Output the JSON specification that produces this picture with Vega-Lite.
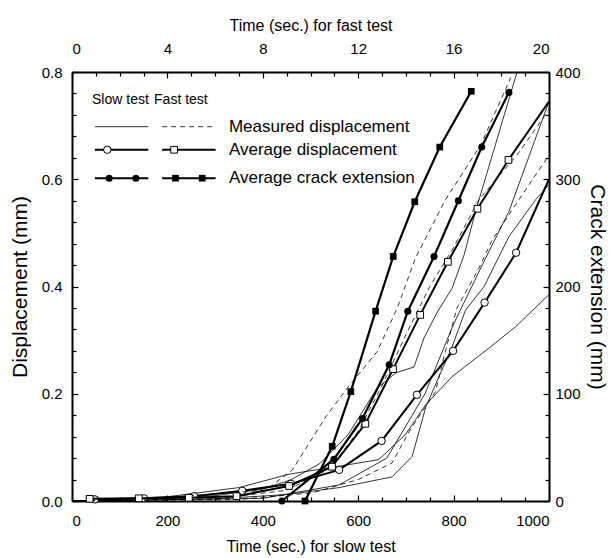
{
  "$schema": "https://vega.github.io/schema/vega-lite/v6.json",
  "width": 477,
  "height": 429,
  "autosize": {"type": "none"},
  "padding": {"left": 72, "top": 72, "right": 62, "bottom": 57},
  "background": "white",
  "config": {
    "view": {"stroke": null},
    "font": "Liberation Sans",
    "axis": {
      "domainColor": "#000", "domainWidth": 2, "tickColor": "#000", "tickWidth": 1.2,
      "labelColor": "#000", "labelFont": "Liberation Sans", "labelFontSize": 15,
      "titleColor": "#000", "titleFontWeight": "normal", "grid": false
    }
  },
  "datasets": {
    "slowMeas": [
      {"series": "S1", "t": 0, "d": 0}, {"series": "S1", "t": 150, "d": 0.003}, {"series": "S1", "t": 300, "d": 0.01}, {"series": "S1", "t": 400, "d": 0.022}, {"series": "S1", "t": 460, "d": 0.04}, {"series": "S1", "t": 520, "d": 0.07}, {"series": "S1", "t": 580, "d": 0.125}, {"series": "S1", "t": 640, "d": 0.211}, {"series": "S1", "t": 679, "d": 0.239}, {"series": "S1", "t": 717, "d": 0.25}, {"series": "S1", "t": 738, "d": 0.304}, {"series": "S1", "t": 765, "d": 0.351}, {"series": "S1", "t": 797, "d": 0.397}, {"series": "S1", "t": 822, "d": 0.459}, {"series": "S1", "t": 846, "d": 0.54}, {"series": "S1", "t": 933, "d": 0.8},
      {"series": "S2", "t": 0, "d": 0}, {"series": "S2", "t": 300, "d": 0.004}, {"series": "S2", "t": 450, "d": 0.012}, {"series": "S2", "t": 560, "d": 0.025}, {"series": "S2", "t": 671, "d": 0.045}, {"series": "S2", "t": 713, "d": 0.083}, {"series": "S2", "t": 742, "d": 0.176}, {"series": "S2", "t": 797, "d": 0.288}, {"series": "S2", "t": 825, "d": 0.356}, {"series": "S2", "t": 864, "d": 0.4}, {"series": "S2", "t": 916, "d": 0.493}, {"series": "S2", "t": 972, "d": 0.562}, {"series": "S2", "t": 1000, "d": 0.59},
      {"series": "S3", "t": 0, "d": 0}, {"series": "S3", "t": 200, "d": 0.008}, {"series": "S3", "t": 350, "d": 0.025}, {"series": "S3", "t": 455, "d": 0.05}, {"series": "S3", "t": 560, "d": 0.065}, {"series": "S3", "t": 643, "d": 0.077}, {"series": "S3", "t": 700, "d": 0.125}, {"series": "S3", "t": 741, "d": 0.179}, {"series": "S3", "t": 797, "d": 0.232}, {"series": "S3", "t": 874, "d": 0.285}, {"series": "S3", "t": 930, "d": 0.325}, {"series": "S3", "t": 1000, "d": 0.385},
      {"series": "S4", "t": 0, "d": 0}, {"series": "S4", "t": 400, "d": 0.005}, {"series": "S4", "t": 560, "d": 0.03}, {"series": "S4", "t": 660, "d": 0.08}, {"series": "S4", "t": 740, "d": 0.2}, {"series": "S4", "t": 800, "d": 0.33}, {"series": "S4", "t": 860, "d": 0.44}, {"series": "S4", "t": 916, "d": 0.54}, {"series": "S4", "t": 1000, "d": 0.745}
    ],
    "slowAvg": [
      {"t": 48, "d": 0.003}, {"t": 151, "d": 0.005}, {"t": 256, "d": 0.009}, {"t": 357, "d": 0.019}, {"t": 459, "d": 0.032}, {"t": 560, "d": 0.058}, {"t": 649, "d": 0.112}, {"t": 723, "d": 0.198}, {"t": 799, "d": 0.28}, {"t": 865, "d": 0.37}, {"t": 931, "d": 0.463}, {"t": 1000, "d": 0.6}
    ],
    "fastMeas": [
      {"series": "D1", "tf": 0, "d": 0}, {"series": "D1", "tf": 2, "d": 0.002}, {"series": "D1", "tf": 4.06, "d": 0.007}, {"series": "D1", "tf": 8.12, "d": 0.02}, {"series": "D1", "tf": 9.24, "d": 0.058}, {"series": "D1", "tf": 10.64, "d": 0.157}, {"series": "D1", "tf": 11.48, "d": 0.207}, {"series": "D1", "tf": 12.8, "d": 0.279}, {"series": "D1", "tf": 13.64, "d": 0.36}, {"series": "D1", "tf": 14.4, "d": 0.453}, {"series": "D1", "tf": 15.66, "d": 0.562}, {"series": "D1", "tf": 17.14, "d": 0.664}, {"series": "D1", "tf": 18.4, "d": 0.79},
      {"series": "D2", "tf": 0, "d": 0}, {"series": "D2", "tf": 6, "d": 0.004}, {"series": "D2", "tf": 9, "d": 0.02}, {"series": "D2", "tf": 10.8, "d": 0.06}, {"series": "D2", "tf": 12, "d": 0.13}, {"series": "D2", "tf": 13, "d": 0.215}, {"series": "D2", "tf": 14, "d": 0.31}, {"series": "D2", "tf": 15, "d": 0.4}, {"series": "D2", "tf": 15.94, "d": 0.468}, {"series": "D2", "tf": 17.06, "d": 0.562}, {"series": "D2", "tf": 18.74, "d": 0.65}, {"series": "D2", "tf": 20, "d": 0.73},
      {"series": "D3", "tf": 0, "d": 0}, {"series": "D3", "tf": 7, "d": 0.003}, {"series": "D3", "tf": 10.06, "d": 0.015}, {"series": "D3", "tf": 12, "d": 0.04}, {"series": "D3", "tf": 13.42, "d": 0.071}, {"series": "D3", "tf": 14.14, "d": 0.13}, {"series": "D3", "tf": 15.24, "d": 0.204}, {"series": "D3", "tf": 15.6, "d": 0.27}, {"series": "D3", "tf": 16.14, "d": 0.36}, {"series": "D3", "tf": 17.06, "d": 0.434}, {"series": "D3", "tf": 17.62, "d": 0.487}, {"series": "D3", "tf": 18.74, "d": 0.562}, {"series": "D3", "tf": 20, "d": 0.645}
    ],
    "fastAvg": [
      {"tf": 0.74, "d": 0.004}, {"tf": 2.8, "d": 0.005}, {"tf": 4.9, "d": 0.006}, {"tf": 6.9, "d": 0.009}, {"tf": 9.1, "d": 0.028}, {"tf": 10.9, "d": 0.064}, {"tf": 12.3, "d": 0.144}, {"tf": 13.46, "d": 0.246}, {"tf": 14.6, "d": 0.347}, {"tf": 15.76, "d": 0.446}, {"tf": 17.0, "d": 0.545}, {"tf": 18.3, "d": 0.636}, {"tf": 20, "d": 0.745}
    ],
    "slowCrack": [
      {"t": 440, "c": 0}, {"t": 549, "c": 39}, {"t": 609, "c": 77}, {"t": 665, "c": 127}, {"t": 704, "c": 177}, {"t": 759, "c": 228}, {"t": 810, "c": 280}, {"t": 859, "c": 330}, {"t": 916, "c": 381}
    ],
    "fastCrack": [
      {"tf": 9.77, "c": 0}, {"tf": 10.91, "c": 51}, {"tf": 11.69, "c": 102}, {"tf": 12.73, "c": 177}, {"tf": 13.47, "c": 228}, {"tf": 14.37, "c": 279}, {"tf": 15.42, "c": 330}, {"tf": 16.74, "c": 382}
    ],
    "legLines": [
      {"kind": "thin", "t": 48, "t2": 160, "d": 0.698},
      {"kind": "dash", "t": 189, "t2": 301, "d": 0.698},
      {"kind": "thick", "t": 48, "t2": 160, "d": 0.655},
      {"kind": "thick", "t": 189, "t2": 301, "d": 0.655},
      {"kind": "thick", "t": 48, "t2": 160, "d": 0.602},
      {"kind": "thick", "t": 189, "t2": 301, "d": 0.602}
    ],
    "legPoints": [
      {"kind": "openCircle", "t": 74, "d": 0.655},
      {"kind": "openSquare", "t": 214, "d": 0.655},
      {"kind": "filledCircle", "t": 78, "d": 0.602},
      {"kind": "filledCircle", "t": 134, "d": 0.602},
      {"kind": "filledSquare", "t": 217, "d": 0.602},
      {"kind": "filledSquare", "t": 273, "d": 0.602}
    ],
    "legHead": [
      {"label": "Slow test", "t": 42, "d": 0.748},
      {"label": "Fast test", "t": 172, "d": 0.748}
    ],
    "legText": [
      {"label": "Measured displacement", "t": 329, "d": 0.698},
      {"label": "Average displacement", "t": 329, "d": 0.655},
      {"label": "Average crack extension", "t": 329, "d": 0.602}
    ]
  },
  "resolve": {"scale": {"x": "independent", "y": "independent"}, "axis": {"x": "independent", "y": "independent"}},
  "layer": [
    {
      "encoding": {
        "x": {"field": "t", "type": "quantitative", "scale": {"domain": [0, 1000], "nice": false, "zero": false},
          "axis": {"orient": "bottom", "values": [0,50,100,150,200,250,300,350,400,450,500,550,600,650,700,750,800,850,900,950,1000],
            "labelExpr": "datum.value % 200 === 0 ? datum.label : ''", "format": "d",
            "tickSize": {"condition": {"test": "datum.value % 200 === 0", "value": -6}, "value": -4},
            "labelPadding": 18, "title": "Time (sec.) for slow test", "titleFont": "Liberation Sans", "titleFontSize": 16, "titlePadding": 10}},
        "y": {"field": "d", "type": "quantitative", "scale": {"domain": [0, 0.8], "nice": false},
          "axis": {"orient": "left", "values": [0,0.04,0.08,0.12,0.16,0.2,0.24,0.28,0.32,0.36,0.4,0.44,0.48,0.52,0.56,0.6,0.64,0.68,0.72,0.76,0.8],
            "labelExpr": "round(datum.value*100) % 20 === 0 ? datum.label : ''", "format": ".1f",
            "tickSize": {"condition": {"test": "round(datum.value*100) % 20 === 0", "value": -6}, "value": -4},
            "labelPadding": 16, "title": "Displacement (mm)", "titleFont": "Liberation Sans", "titleFontSize": 21, "titlePadding": 11}}
      },
      "layer": [
        {"data": {"name": "slowMeas"}, "mark": {"type": "line", "color": "black", "strokeWidth": 0.8}, "encoding": {"detail": {"field": "series"}}},
        {"data": {"name": "slowAvg"}, "mark": {"type": "line", "color": "black", "strokeWidth": 2}},
        {"data": {"name": "slowAvg"}, "transform": [{"filter": "datum.t < 1000"}], "mark": {"type": "point", "shape": "circle", "filled": true, "fill": "white", "stroke": "black", "strokeWidth": 1, "size": 55, "opacity": 1}},
        {"data": {"name": "legLines"}, "transform": [{"filter": "datum.kind === 'thin'"}], "mark": {"type": "rule", "color": "black", "strokeWidth": 0.8}, "encoding": {"x2": {"field": "t2"}}},
        {"data": {"name": "legLines"}, "transform": [{"filter": "datum.kind === 'dash'"}], "mark": {"type": "rule", "color": "black", "strokeWidth": 0.8, "strokeDash": [5, 4]}, "encoding": {"x2": {"field": "t2"}}},
        {"data": {"name": "legLines"}, "transform": [{"filter": "datum.kind === 'thick'"}], "mark": {"type": "rule", "color": "black", "strokeWidth": 2}, "encoding": {"x2": {"field": "t2"}}},
        {"data": {"name": "legPoints"}, "transform": [{"filter": "datum.kind === 'openCircle'"}], "mark": {"type": "point", "shape": "circle", "filled": true, "fill": "white", "stroke": "black", "strokeWidth": 1, "size": 55, "opacity": 1}},
        {"data": {"name": "legPoints"}, "transform": [{"filter": "datum.kind === 'openSquare'"}], "mark": {"type": "point", "shape": "square", "filled": true, "fill": "white", "stroke": "black", "strokeWidth": 1, "size": 45, "opacity": 1}},
        {"data": {"name": "legPoints"}, "transform": [{"filter": "datum.kind === 'filledCircle'"}], "mark": {"type": "point", "shape": "circle", "filled": true, "fill": "black", "size": 50, "opacity": 1}},
        {"data": {"name": "legPoints"}, "transform": [{"filter": "datum.kind === 'filledSquare'"}], "mark": {"type": "point", "shape": "square", "filled": true, "fill": "black", "size": 45, "opacity": 1}},
        {"data": {"name": "legHead"}, "mark": {"type": "text", "align": "left", "baseline": "middle", "font": "Liberation Sans", "fontSize": 14, "color": "black"}, "encoding": {"text": {"field": "label"}}},
        {"data": {"name": "legText"}, "mark": {"type": "text", "align": "left", "baseline": "middle", "font": "Liberation Sans", "fontSize": 17, "color": "black"}, "encoding": {"text": {"field": "label"}}}
      ]
    },
    {
      "encoding": {
        "x": {"field": "tf", "type": "quantitative", "scale": {"domain": [0, 20], "nice": false, "zero": false},
          "axis": {"orient": "top", "values": [0,1,2,3,4,5,6,7,8,9,10,11,12,13,14,15,16,17,18,19,20],
            "labelExpr": "datum.value % 4 === 0 ? datum.label : ''", "format": "d",
            "tickSize": {"condition": {"test": "datum.value % 4 === 0", "value": -6}, "value": -4},
            "labelPadding": 22, "title": "Time (sec.) for fast test", "titleFont": "Liberation Sans", "titleFontSize": 16, "titlePadding": 8}},
        "y": {"field": "d", "type": "quantitative", "scale": {"domain": [0, 0.8], "nice": false}, "axis": null}
      },
      "layer": [
        {"data": {"name": "fastMeas"}, "mark": {"type": "line", "color": "black", "strokeWidth": 0.8, "strokeDash": [5, 4]}, "encoding": {"detail": {"field": "series"}}},
        {"data": {"name": "fastAvg"}, "mark": {"type": "line", "color": "black", "strokeWidth": 2}},
        {"data": {"name": "fastAvg"}, "transform": [{"filter": "datum.tf < 20"}], "mark": {"type": "point", "shape": "square", "filled": true, "fill": "white", "stroke": "black", "strokeWidth": 1, "size": 45, "opacity": 1}}
      ]
    },
    {
      "encoding": {
        "x": {"field": "t", "type": "quantitative", "scale": {"domain": [0, 1000], "nice": false, "zero": false}, "axis": null},
        "y": {"field": "c", "type": "quantitative", "scale": {"domain": [0, 400], "nice": false},
          "axis": {"orient": "right", "values": [0,20,40,60,80,100,120,140,160,180,200,220,240,260,280,300,320,340,360,380,400],
            "labelExpr": "datum.value % 100 === 0 ? datum.label : ''", "format": "d",
            "tickSize": {"condition": {"test": "datum.value % 100 === 0", "value": -6}, "value": -4},
            "labelPadding": 12, "title": "Crack extension (mm)", "titleFont": "Liberation Sans", "titleFontSize": 21, "titlePadding": 6}}
      },
      "layer": [
        {"data": {"name": "slowCrack"}, "mark": {"type": "line", "color": "black", "strokeWidth": 2.2}},
        {"data": {"name": "slowCrack"}, "mark": {"type": "point", "shape": "circle", "filled": true, "fill": "black", "size": 50, "opacity": 1}}
      ]
    },
    {
      "encoding": {
        "x": {"field": "tf", "type": "quantitative", "scale": {"domain": [0, 20], "nice": false, "zero": false}, "axis": null},
        "y": {"field": "c", "type": "quantitative", "scale": {"domain": [0, 400], "nice": false}, "axis": null}
      },
      "layer": [
        {"data": {"name": "fastCrack"}, "mark": {"type": "line", "color": "black", "strokeWidth": 2.2}},
        {"data": {"name": "fastCrack"}, "mark": {"type": "point", "shape": "square", "filled": true, "fill": "black", "size": 45, "opacity": 1}}
      ]
    }
  ]
}
